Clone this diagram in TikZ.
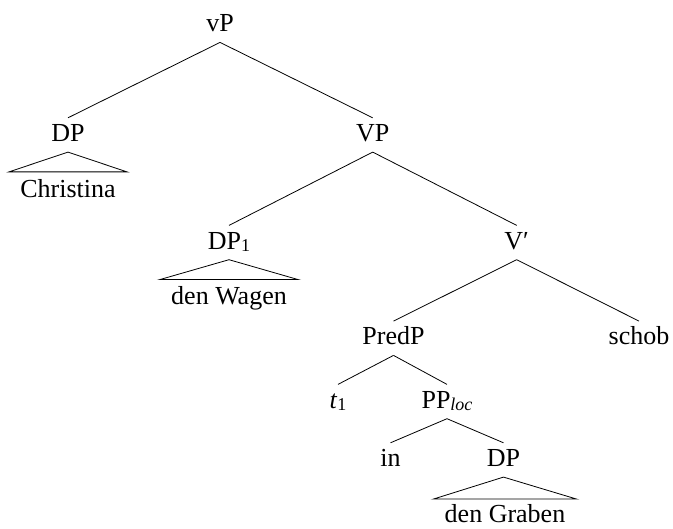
\documentclass[tikz,border=0pt]{standalone}
\usepackage{fontspec}
\setmainfont{Liberation Serif}
\newcommand{\sbs}[1]{\raisebox{-2pt}{\fontsize{18}{18}\selectfont #1}}
\begin{document}
\begin{tikzpicture}[x=1pt,y=-1pt,
  font=\fontsize{26}{30}\selectfont, line width=0.8pt,
  cat/.style={anchor=base, text height=17pt, text depth=3.5pt, inner ysep=6.5pt, inner xsep=2pt},
  leaf/.style={anchor=base, text height=18pt, text depth=5pt, inner ysep=7pt, inner xsep=11pt}]
\useasboundingbox (0,0) rectangle (673,529);
\node[cat] (vP) at (220,32) {vP};
\node[cat] (DPa) at (68,141.7) {DP};
\node[leaf] (Chr) at (68,197.3) {Christina};
\node[cat] (VP) at (372.7,141.7) {VP};
\node[cat] (DP1) at (229,249.3) {DP\sbs{1}};
\node[leaf] (Wag) at (229,305) {den Wagen};
\node[cat] (Vbar) at (516.7,249.3) {V′};
\node[cat] (PredP) at (393.5,345) {PredP};
\node[cat] (schob) at (639,345) {schob};
\node[cat] (t1) at (338,408.3) {\textit{t}\sbs{1}};
\node[cat] (PP) at (447,408.3) {PP\sbs{\textit{loc}}};
\node[cat] (in) at (390.5,466.7) {in};
\node[cat] (DPb) at (503.5,466.7) {DP};
\node[leaf, inner ysep=5pt] (Gra) at (505,522.5) {den Graben};
\draw (vP.south) -- (DPa.north);
\draw (vP.south) -- (VP.north);
\draw (DPa.south) -- (Chr.north west) -- (Chr.north east) -- cycle;
\draw (VP.south) -- (DP1.north);
\draw (VP.south) -- (Vbar.north);
\draw (DP1.south) -- (Wag.north west) -- (Wag.north east) -- cycle;
\draw (Vbar.south) -- (PredP.north);
\draw (Vbar.south) -- (schob.north);
\draw (PredP.south) -- (t1.north);
\draw (PredP.south) -- (PP.north);
\draw (PP.south) -- (in.north);
\draw (PP.south) -- (DPb.north);
\draw (DPb.south) -- (Gra.north west) -- (Gra.north east) -- cycle;
\end{tikzpicture}
\end{document}
